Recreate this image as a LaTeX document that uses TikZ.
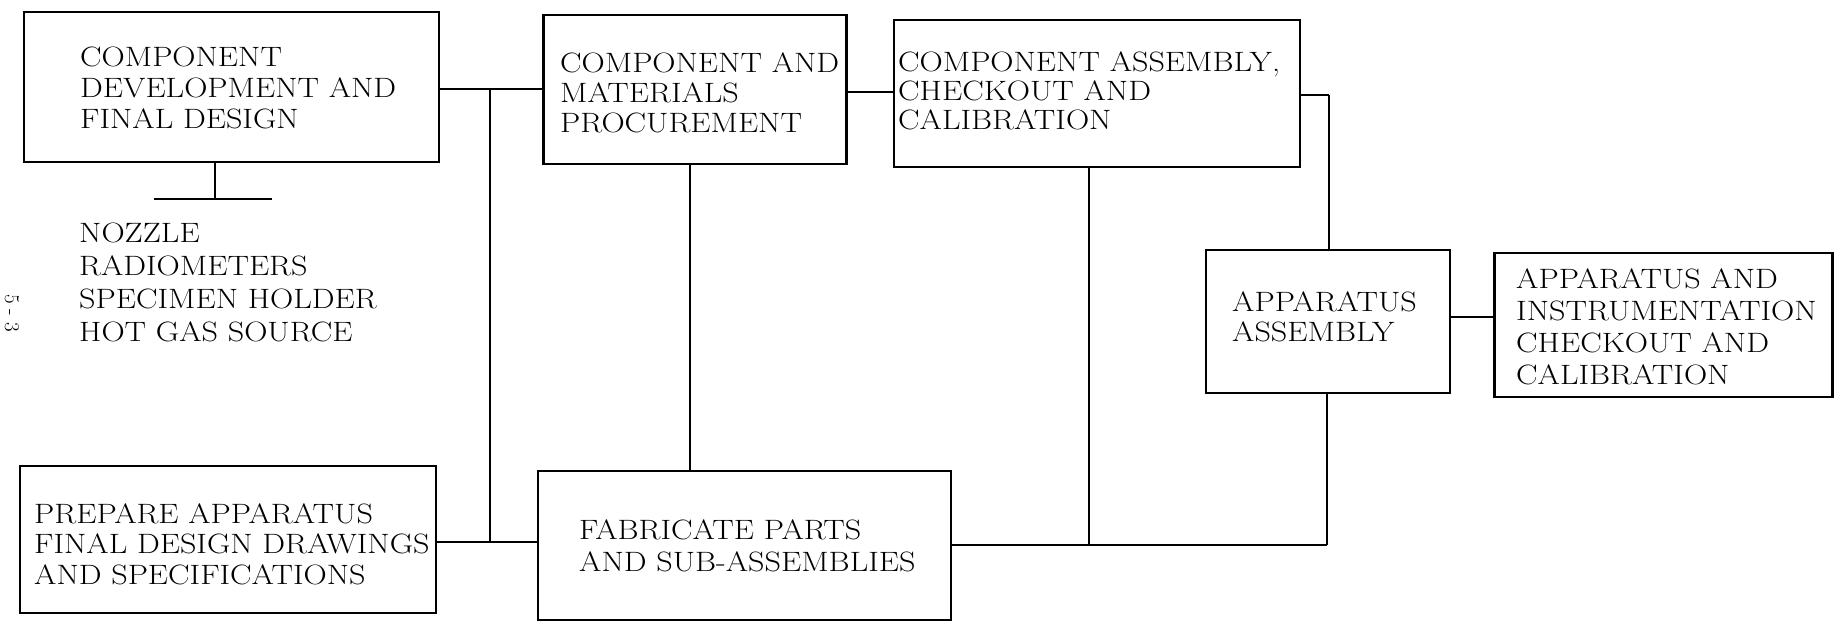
\documentclass[tikz,border=0pt]{standalone}
\usepackage{fontspec}
\newfontfamily\boxfont{Latin Modern Roman}[FakeStretch=1.15]
\usetikzlibrary{calc}
\begin{document}
\begin{tikzpicture}[x=1pt,y=-1pt,
  box/.style={draw=black, line width=2.4pt, inner sep=0pt},
  txt/.style={anchor=west, inner sep=0pt, align=left, font=\boxfont\fontsize{28}{#1}\selectfont},
  txt/.default=30,
  conn/.style={draw=black, line width=1.8pt},
  vline/.style={draw=black, line width=1.1pt}]
\useasboundingbox[fill=white] (0,0) rectangle (1838,628);

% boxes
\node[box, minimum width=415pt, minimum height=150pt] (A) at (231.5,87) {};
\node[box, minimum width=303pt, minimum height=149pt] (B) at (695,89.5) {};
\node[box, minimum width=406pt, minimum height=147pt] (C) at (1097,93.5) {};
\node[box, minimum width=244pt, minimum height=143pt] (D) at (1328,321.5) {};
\node[box, minimum width=338pt, minimum height=144pt] (G) at (1663.5,325) {};
\node[box, minimum width=416pt, minimum height=147pt] (E) at (228,539.5) {};
\node[box, minimum width=413pt, minimum height=149pt] (F) at (744.5,545.5) {};

% texts
\node[txt=31] (At) at (80,87.5) {COMPONENT\\DEVELOPMENT AND\\FINAL DESIGN};
\node[txt=30] (Bt) at (560,93) {COMPONENT AND\\MATERIALS\\PROCUREMENT};
\node[txt=29] (Ct) at (898,91) {COMPONENT ASSEMBLY,\\CHECKOUT AND\\CALIBRATION};
\node[txt=30] (Dt) at (1232,317) {APPARATUS\\ASSEMBLY};
\node[txt=32] (Gt) at (1516,327) {APPARATUS AND\\INSTRUMENTATION\\CHECKOUT AND\\CALIBRATION};
\node[txt=30.5] (Et) at (34,544) {PREPARE APPARATUS\\FINAL DESIGN DRAWINGS\\AND SPECIFICATIONS};
\node[txt=31.5] (Ft) at (579,546) {FABRICATE PARTS\\AND SUB-ASSEMBLIES};
\node[txt=33] (list) at (79,282) {NOZZLE\\RADIOMETERS\\SPECIMEN HOLDER\\HOT GAS SOURCE};
\node[inner sep=0pt, rotate=-90, font=\fontsize{21}{24}\selectfont] (pg) at (12,313) {5\kern6pt-\kern6pt3};

% junction coordinates
\coordinate (j1) at (490,89);
\coordinate (j2) at (490,542);
\coordinate (bs) at (690,0);
\coordinate (bc) at (0,92);
\coordinate (cs) at (1089,545);
\coordinate (fr) at (1327,545);
\coordinate (cd) at (1329,95);
\coordinate (dg) at (0,317);
\coordinate (as) at (215,199);
\coordinate (bl) at (154,199);
\coordinate (br) at (272,199);

% connectors
\draw[conn] (A.east |- j1) -- (B.west |- j1);
\draw[conn] (E.east |- j2) -- (F.west |- j2);
\draw[vline] (j1) -- (j2);
\draw[vline] (B.south -| bs) -- (F.north -| bs);
\draw[conn] (B.east |- bc) -- (C.west |- bc);
\draw[vline] (C.south -| cs) -- (cs);
\draw[conn] (F.east |- fr) -- (fr);
\draw[vline] (fr) -- (D.south -| fr);
\draw[conn] (C.east |- cd) -- (cd);
\draw[vline] (cd) -- (D.north -| cd);
\draw[conn] (D.east |- dg) -- (G.west |- dg);
\draw[vline] (A.south -| as) -- (as);
\draw[conn] (bl) -- (br);
\end{tikzpicture}
\end{document}
